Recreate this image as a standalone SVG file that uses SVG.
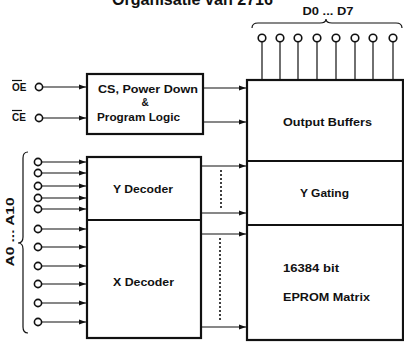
<svg xmlns="http://www.w3.org/2000/svg" width="404" height="345" viewBox="0 0 404 345">
<defs>
<marker id="ah" markerWidth="8" markerHeight="6" refX="7" refY="3" orient="auto" markerUnits="userSpaceOnUse">
<path d="M0,0.5 L7,3 L0,5.5 Z" fill="#111"/>
</marker>
<style>
text{font-family:"Liberation Sans",Arial,sans-serif;font-weight:bold;fill:#111}
.lbl{font-size:10px}
.box{fill:#fff;stroke:#111;stroke-width:2.2}
.wire{stroke:#111;stroke-width:1.2;fill:none}
.pin{fill:#fff;stroke:#111;stroke-width:1.6}
.arr{stroke:#111;stroke-width:1.2;fill:none;marker-end:url(#ah)}
.dash{stroke:#111;stroke-width:1.6;stroke-dasharray:2,2;fill:none}
</style>
</defs>
<rect width="404" height="345" fill="#fff"/>
<text x="112" y="5" font-size="16" textLength="161" lengthAdjust="spacingAndGlyphs">Organisatie van 2716</text>

<g id="cs-logic">
<rect class="box" x="87" y="74" width="116" height="60"/>
<text class="lbl" x="98" y="93" textLength="100" lengthAdjust="spacingAndGlyphs">CS, Power Down</text>
<text class="lbl" x="145" y="106" text-anchor="middle">&amp;</text>
<text class="lbl" x="97" y="121" textLength="83" lengthAdjust="spacingAndGlyphs">Program Logic</text>
</g>

<g id="decoders">
<rect class="box" x="87" y="157" width="114" height="181"/>
<line class="box" x1="87" y1="220" x2="201" y2="220"/>
<text class="lbl" x="113" y="193" textLength="60" lengthAdjust="spacingAndGlyphs">Y Decoder</text>
<text class="lbl" x="113" y="286" textLength="61" lengthAdjust="spacingAndGlyphs">X Decoder</text>
</g>

<g id="memory">
<rect class="box" x="247" y="80" width="156" height="260"/>
<line class="box" x1="247" y1="161" x2="403" y2="161"/>
<line class="box" x1="247" y1="225" x2="403" y2="225"/>
<text class="lbl" x="283" y="126" textLength="89" lengthAdjust="spacingAndGlyphs">Output Buffers</text>
<text class="lbl" x="300" y="197" textLength="49" lengthAdjust="spacingAndGlyphs">Y Gating</text>
<text class="lbl" x="283" y="272" textLength="56" lengthAdjust="spacingAndGlyphs">16384 bit</text>
<text class="lbl" x="283" y="301" textLength="87" lengthAdjust="spacingAndGlyphs">EPROM Matrix</text>
</g>

<g id="inputs-control">
<text class="lbl" x="12" y="91" font-size="9">OE</text>
<line class="wire" x1="12" y1="80.5" x2="22" y2="80.5" stroke-width="0.9"/>
<text class="lbl" x="12" y="121" font-size="9">CE</text>
<line class="wire" x1="12" y1="110.5" x2="22" y2="110.5" stroke-width="0.9"/>
</g>

<g id="data-pins">
<text class="lbl" x="328" y="15" text-anchor="middle" font-size="9" textLength="51" lengthAdjust="spacingAndGlyphs">D0 ... D7</text>
<path class="wire" d="M252,28 Q252,23 258,23 L320,23 Q326,23 326,19 Q326,23 332,23 L396,23 Q402,23 402,28"/>
</g>

<g id="address-pins">
<path class="wire" d="M28,152 Q23,152 23,158 L23,237 Q23,243 18,243 Q23,243 23,249 L23,327 Q23,333 28,333"/>
<text class="lbl" transform="translate(14,232) rotate(-90)" text-anchor="middle" font-size="9" textLength="69" lengthAdjust="spacingAndGlyphs">A0 ... A10</text>
</g>

<g id="connectors">
<path class="arr" d="M43,87 H86"/>
<path class="arr" d="M43,118 H86"/>
<path class="arr" d="M204,88 H246"/>
<path class="arr" d="M204,122 H246"/>
<path class="arr" d="M202,166 H246"/>
<path class="arr" d="M202,213 H246"/>
<path class="arr" d="M202,234 H246"/>
<path class="arr" d="M202,327 H246"/>
<path class="dash" d="M221,170 V210"/>
<path class="dash" d="M220,238 V322"/>
<g class="wire">
<path d="M262,42 V80 M280,42 V80 M298,42 V80 M317,42 V80 M336,42 V80 M355,42 V80 M373,42 V80 M393,42 V80"/>
</g>
<path class="arr" d="M42,162 H86"/>
<path class="arr" d="M42,173 H86"/>
<path class="arr" d="M42,186 H86"/>
<path class="arr" d="M42,198 H86"/>
<path class="arr" d="M42,209 H86"/>
<path class="arr" d="M42,229 H86"/>
<path class="arr" d="M42,247 H86"/>
<path class="arr" d="M42,266 H86"/>
<path class="arr" d="M42,284 H86"/>
<path class="arr" d="M42,303 H86"/>
<path class="arr" d="M42,322 H86"/>
</g>

<g id="pins">
<circle class="pin" cx="39" cy="87" r="3.6"/>
<circle class="pin" cx="39" cy="118" r="3.6"/>
<circle class="pin" cx="262" cy="38" r="3.8"/>
<circle class="pin" cx="280" cy="38" r="3.8"/>
<circle class="pin" cx="298" cy="38" r="3.8"/>
<circle class="pin" cx="317" cy="38" r="3.8"/>
<circle class="pin" cx="336" cy="38" r="3.8"/>
<circle class="pin" cx="355" cy="38" r="3.8"/>
<circle class="pin" cx="373" cy="38" r="3.8"/>
<circle class="pin" cx="393" cy="38" r="3.8"/>
<circle class="pin" cx="38" cy="162" r="3.6"/>
<circle class="pin" cx="38" cy="173" r="3.6"/>
<circle class="pin" cx="38" cy="186" r="3.6"/>
<circle class="pin" cx="38" cy="198" r="3.6"/>
<circle class="pin" cx="38" cy="209" r="3.6"/>
<circle class="pin" cx="38" cy="229" r="3.6"/>
<circle class="pin" cx="38" cy="247" r="3.6"/>
<circle class="pin" cx="38" cy="266" r="3.6"/>
<circle class="pin" cx="38" cy="284" r="3.6"/>
<circle class="pin" cx="38" cy="303" r="3.6"/>
<circle class="pin" cx="38" cy="322" r="3.6"/>
</g>
</svg>
